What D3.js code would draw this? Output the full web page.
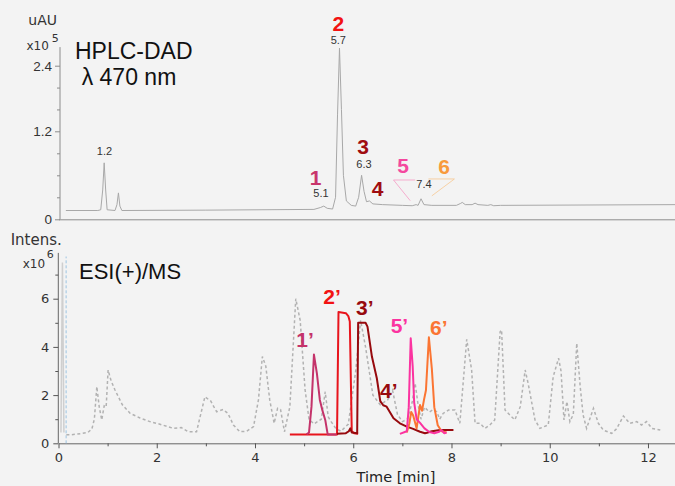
<!DOCTYPE html>
<html>
<head>
<meta charset="utf-8">
<script src="https://cdn.jsdelivr.net/npm/d3@7"></script>
<style>
  html, body { margin: 0; padding: 0; background: #f3f3f3; }
  svg { display: block; }
  .axis text { fill: #333; }
</style>
</head>
<body>
<div id="plot"></div>
<script>
// HPLC-DAD trace (time in min, signal in x10^5 uAU)
const dadTime  = [0.15, 0.80, 0.86, 0.90, 0.93, 0.96, 0.99, 1.15, 1.19, 1.22, 1.25, 1.29, 3.0, 5.2, 5.33, 5.40, 5.47, 5.58, 5.64, 5.68, 5.72, 5.76, 5.80, 5.86, 5.96, 6.05, 6.11, 6.17, 6.22, 6.27, 6.33, 6.40, 6.6, 7.0, 7.2, 7.28, 7.32, 7.38, 7.44, 7.6, 8.1, 8.18, 8.22, 8.28, 8.42, 8.48, 8.54, 8.74, 8.8, 8.86, 9.0, 12.55];
const dadValue = [0.12, 0.12, 0.13, 0.40, 0.77, 0.40, 0.13, 0.12, 0.20, 0.36, 0.18, 0.12, 0.125, 0.135, 0.16, 0.18, 0.15, 0.14, 0.30, 1.5, 2.72, 1.6, 0.6, 0.25, 0.19, 0.18, 0.30, 0.60, 0.38, 0.24, 0.25, 0.21, 0.2, 0.19, 0.185, 0.2, 0.19, 0.28, 0.2, 0.19, 0.19, 0.215, 0.23, 0.2, 0.2, 0.22, 0.2, 0.19, 0.2, 0.185, 0.19, 0.2];

// ESI(+)/MS total ion trace (x10^6)
const ticTime  = [0.16, 0.25, 0.45, 0.6, 0.68, 0.73, 0.78, 0.83, 0.88, 0.93, 0.97, 1.01, 1.07, 1.15, 1.30, 1.46, 1.66, 1.86, 2.05, 2.34, 2.5, 2.64, 2.81, 2.98, 3.10, 3.18, 3.22, 3.35, 3.45, 3.56, 3.69, 3.83, 3.97, 4.07, 4.15, 4.22, 4.3, 4.39, 4.46, 4.52, 4.6, 4.71, 4.83, 4.92, 5.02, 5.1, 5.2, 5.35, 5.43, 5.49, 5.55, 5.65, 5.75, 5.9, 6.05, 6.15, 6.25, 6.4, 6.55, 6.7, 6.8, 6.9, 7.0, 7.1, 7.2, 7.26, 7.32, 7.38, 7.45, 7.55, 7.63, 7.7, 7.76, 7.83, 7.94, 8.07, 8.17, 8.31, 8.41, 8.48, 8.58, 8.68, 8.78, 8.88, 8.99, 9.02, 9.09, 9.19, 9.29, 9.40, 9.50, 9.56, 9.70, 9.80, 9.97, 10.07, 10.18, 10.23, 10.29, 10.35, 10.41, 10.48, 10.55, 10.62, 10.68, 10.75, 10.89, 10.99, 11.09, 11.26, 11.36, 11.5, 11.63, 11.77, 11.87, 11.97, 12.08, 12.25];
const ticValue = [0.35, 0.35, 0.4, 0.45, 0.6, 1.0, 2.35, 1.5, 0.97, 1.55, 1.5, 3.04, 2.6, 2.21, 1.6, 1.24, 1.05, 0.9, 0.8, 0.62, 0.65, 0.48, 0.48, 1.93, 1.75, 1.45, 1.31, 1.4, 1.24, 0.76, 0.48, 0.5, 0.69, 1.8, 3.6, 3.2, 1.8, 0.83, 1.45, 1.4, 0.48, 1.52, 6.0, 5.1, 2.21, 1.0, 0.8, 1.0, 2.14, 1.1, 0.9, 0.6, 0.5, 0.8, 3.0, 5.1, 4.0, 2.0, 1.6, 1.8, 2.2, 1.2, 0.9, 1.0, 1.7, 2.49, 1.6, 1.0, 1.5, 1.3, 1.4, 1.31, 1.0, 1.24, 1.38, 1.38, 0.83, 4.31, 3.04, 0.83, 0.83, 0.62, 0.76, 0.97, 4.63, 4.7, 1.38, 1.17, 0.97, 1.52, 3.04, 2.49, 0.97, 0.62, 0.76, 2.76, 3.53, 3.0, 0.97, 1.73, 0.9, 1.2, 4.15, 2.35, 1.17, 0.62, 1.45, 0.83, 0.55, 0.41, 0.6, 1.13, 0.83, 0.9, 0.76, 0.9, 0.62, 0.55];

// solvent front spike
const frontTime  = [0.05, 0.08, 0.11];
const frontValue = [0.45, 7.5, 0.45];

// extracted ion traces
const eic1Time  = [5.05, 5.10, 5.15, 5.20, 5.26, 5.32, 5.37, 5.43, 5.48, 5.66];
const eic1Value = [0.37, 0.45, 1.52, 3.68, 2.9, 1.8, 1.38, 0.97, 0.37, 0.37];
const eic2Time  = [4.71, 5.67, 5.70, 5.85, 5.90, 5.93, 5.97, 6.02, 6.10];
const eic2Value = [0.37, 0.37, 5.45, 5.40, 5.28, 5.05, 0.5, 0.42, 0.40];
const eic3Time  = [5.67, 5.85, 5.91, 5.94, 5.97, 6.08, 6.10, 6.25, 6.29, 6.38, 6.48, 6.55, 6.61, 6.68, 6.75, 6.82, 6.95, 7.09, 7.22, 7.36, 7.46, 7.50, 7.6, 7.77, 8.04];
const eic3Value = [0.4, 0.42, 0.5, 0.62, 0.45, 0.42, 5.0, 5.0, 4.84, 3.6, 2.7, 1.75, 1.58, 1.52, 1.28, 1.04, 0.83, 0.69, 0.6, 0.48, 0.42, 0.44, 0.5, 0.55, 0.55];
const eic5Time  = [6.95, 7.09, 7.13, 7.17, 7.21, 7.24, 7.29, 7.36, 7.45, 7.55, 7.65, 7.75, 7.8, 7.85, 7.9];
const eic5Value = [0.39, 0.5, 1.5, 4.36, 3.2, 1.7, 1.0, 0.85, 0.62, 0.47, 0.42, 0.48, 0.55, 0.42, 0.45];
const eic6Time  = [7.09, 7.14, 7.18, 7.22, 7.29, 7.36, 7.40, 7.44, 7.48, 7.54, 7.60, 7.65, 7.72, 7.80, 7.90];
const eic6Value = [0.45, 0.8, 1.3, 1.15, 0.62, 1.59, 1.35, 1.8, 2.2, 4.4, 3.1, 1.5, 0.75, 0.5, 0.45];

// axis ticks
const timeTicks = [0, 2, 4, 6, 8, 10, 12];
const timeMinor = [1, 3, 5, 7, 9, 11];
const dadTicks = [0, 1.2, 2.4];
const dadMinor = [0.3, 0.6, 0.9, 1.6, 2.0];
const msTicks = [0, 2, 4, 6];
const msMinor = [1, 3, 5, 7];

const width = 675, height = 486;

const svg = d3.select("#plot").append("svg")
    .attr("width", width)
    .attr("height", height);

const x = d3.scaleLinear().domain([0, 12.55]).range([58.5, 675]);
const yTop = d3.scaleLinear().domain([0, 1.2, 2.4]).range([219.3, 131.3, 65.7]);
const yBot = d3.scaleLinear().domain([0, 7]).range([443.3, 274.6]);

const zip = (t, v) => t.map((d, i) => [d, v[i]]);
const lineTop = d3.line().x(d => x(d[0])).y(d => yTop(d[1]));
const lineBot = d3.line().x(d => x(d[0])).y(d => yBot(d[1]));

const sans = "Liberation Sans, Arial, sans-serif";
const verdana = "DejaVu Sans, Verdana, sans-serif";

function label(g, txt, px, py, opts) {
  return g.append("text")
      .attr("x", px).attr("y", py)
      .attr("font-family", opts.family || sans)
      .attr("font-size", opts.size)
      .attr("font-weight", opts.weight || "normal")
      .attr("fill", opts.color || "#222")
      .attr("text-anchor", opts.anchor || "middle")
      .text(txt);
}
const small = { size: 11, color: "#333" };
const big = (c, a) => ({ size: 21, weight: "bold", color: c, anchor: a || "middle" });
const unit = { size: 12, anchor: "start", color: "#333", family: verdana };

// ---------- top panel: HPLC-DAD ----------
const topG = svg.append("g");
const topAxisX = 60;

topG.append("g")
    .attr("class", "axis")
    .attr("transform", `translate(0,${yTop(0)})`)
    .call(d3.axisBottom(x).tickValues([]).tickSizeOuter(0))
    .call(g => g.select(".domain").attr("stroke", "#8c8c8c"));

topG.append("line")
    .attr("x1", topAxisX).attr("x2", topAxisX)
    .attr("y1", yTop(0)).attr("y2", yTop(2.74))
    .attr("stroke", "#8c8c8c");

topG.append("g")
    .attr("class", "axis")
    .attr("transform", `translate(${topAxisX},0)`)
    .call(d3.axisLeft(yTop).tickValues(dadTicks).tickSize(5).tickPadding(3)
      .tickFormat(d => d === 0 ? "0" : d.toFixed(1)))
    .call(g => g.select(".domain").remove())
    .call(g => g.selectAll(".tick line").attr("stroke", "#8c8c8c"))
    .call(g => g.selectAll("text").attr("font-family", sans).attr("font-size", 13.5));

topG.append("g")
    .attr("transform", `translate(${topAxisX},0)`)
    .call(d3.axisLeft(yTop).tickValues(dadMinor).tickSize(3).tickFormat(""))
    .call(g => g.select(".domain").remove())
    .call(g => g.selectAll(".tick line").attr("stroke", "#8c8c8c"));

topG.append("path")
    .datum(zip(dadTime, dadValue))
    .attr("fill", "none")
    .attr("stroke", "#a8a8a8")
    .attr("stroke-width", 1)
    .attr("d", lineTop);

// leader lines for peaks 5 and 6
topG.append("path")
    .datum([[7.26, 0.536], [6.82, 0.536], [7.16, 0.254]])
    .attr("fill", "none").attr("stroke", "#f59ac4").attr("stroke-width", 0.8)
    .attr("d", lineTop);
topG.append("path")
    .datum([[7.53, 0.55], [8.06, 0.55], [7.6, 0.32]])
    .attr("fill", "none").attr("stroke", "#f8c890").attr("stroke-width", 0.8)
    .attr("d", lineTop);

label(topG, "1.2", 104.5, 155, small);
label(topG, "5.1", 321, 197.3, small);
label(topG, "5.7", 338.3, 44, small);
label(topG, "6.3", 364, 167.7, small);
label(topG, "7.4", 424, 188.3, small);

label(topG, "1", 315.7, 185, big("#c8356c"));
label(topG, "2", 338.3, 30.7, big("#f21212"));
label(topG, "3", 363, 154, big("#a00c10"));
label(topG, "4", 377.7, 196, big("#a00c10"));
label(topG, "5", 403, 173.3, big("#f4479e"));
label(topG, "6", 444, 174, big("#f89a3c"));

label(topG, "HPLC-DAD", 75, 59.3, { size: 23, anchor: "start", color: "#111" });
label(topG, "\u03bb 470 nm", 81.7, 85, { size: 23, anchor: "start", color: "#111" });

label(topG, "uAU", 28.3, 25, Object.assign({}, unit, { size: 14 }));
label(topG, "x10", 26.5, 50, unit);
label(topG, "5", 51.7, 41.7, Object.assign({}, unit, { size: 11 }));

// ---------- bottom panel: ESI(+)/MS ----------
const botG = svg.append("g");
const botAxisX = 58.3;

botG.append("g")
    .attr("class", "axis")
    .attr("transform", `translate(0,${yBot(0)})`)
    .call(d3.axisBottom(x).tickValues(timeTicks).tickSize(5).tickPadding(4).tickSizeOuter(0))
    .call(g => g.select(".domain").attr("stroke", "#666"))
    .call(g => g.selectAll(".tick line").attr("stroke", "#555"))
    .call(g => g.selectAll("text").attr("font-family", verdana).attr("font-size", 13));

botG.append("g")
    .attr("transform", `translate(0,${yBot(0)})`)
    .call(d3.axisBottom(x).tickValues(timeMinor).tickSize(3).tickFormat(""))
    .call(g => g.select(".domain").remove())
    .call(g => g.selectAll(".tick line").attr("stroke", "#555"));

botG.append("line")
    .attr("x1", botAxisX).attr("x2", botAxisX)
    .attr("y1", yBot(0)).attr("y2", yBot(7.9))
    .attr("stroke", "#666");

botG.append("g")
    .attr("class", "axis")
    .attr("transform", `translate(${botAxisX},0)`)
    .call(d3.axisLeft(yBot).tickValues(msTicks).tickSize(5).tickPadding(4).tickFormat(d3.format("d")))
    .call(g => g.select(".domain").remove())
    .call(g => g.selectAll(".tick line").attr("stroke", "#555"))
    .call(g => g.selectAll("text").attr("font-family", verdana).attr("font-size", 13));

botG.append("g")
    .attr("transform", `translate(${botAxisX},0)`)
    .call(d3.axisLeft(yBot).tickValues(msMinor).tickSize(3).tickFormat(""))
    .call(g => g.select(".domain").remove())
    .call(g => g.selectAll(".tick line").attr("stroke", "#555"));

// solvent front and marker line
botG.append("path")
    .datum(zip(frontTime, frontValue))
    .attr("fill", "none").attr("stroke", "#cfcfcf").attr("stroke-width", 1.5)
    .attr("d", lineBot);

botG.append("path")
    .datum([[0.155, 0], [0.155, 7.75]])
    .attr("fill", "none").attr("stroke", "#9cc4e2").attr("stroke-width", 1)
    .attr("stroke-dasharray", "3,2")
    .attr("d", lineBot);

botG.append("path")
    .datum(zip(ticTime, ticValue))
    .attr("fill", "none")
    .attr("stroke", "#b2b2b2")
    .attr("stroke-width", 1.5)
    .attr("stroke-dasharray", "3,2.5")
    .attr("d", lineBot);

const eics = [
  { t: eic2Time, v: eic2Value, c: "#e8141c" },
  { t: eic3Time, v: eic3Value, c: "#970a0e" },
  { t: eic1Time, v: eic1Value, c: "#c4336a" },
  { t: eic6Time, v: eic6Value, c: "#fb7533" },
  { t: eic5Time, v: eic5Value, c: "#fb33a0" }
];

eics.forEach(e => {
  botG.append("path")
      .datum(zip(e.t, e.v))
      .attr("fill", "none")
      .attr("stroke", e.c)
      .attr("stroke-width", 2)
      .attr("stroke-linejoin", "round")
      .attr("d", lineBot);
});

label(botG, "1\u2019", 305, 346.7, big("#c4336a"));
label(botG, "2\u2019", 323.3, 304, big("#f21212", "start"));
label(botG, "3\u2019", 356, 315, big("#970a0e", "start"));
label(botG, "4\u2019", 380, 398.3, big("#970a0e", "start"));
label(botG, "5\u2019", 390.7, 333.3, big("#fb33a0", "start"));
label(botG, "6\u2019", 430, 335, big("#fb7533", "start"));

label(botG, "ESI(+)/MS", 79, 279.3, { size: 22, anchor: "start", color: "#111" });
label(botG, "Intens.", 10.7, 245, Object.assign({}, unit, { size: 15 }));
label(botG, "x10", 22.7, 268.3, unit);
label(botG, "6", 46.7, 257.7, Object.assign({}, unit, { size: 11 }));

label(botG, "Time [min]", 396, 482, { size: 14.5, color: "#222", family: verdana });
</script>
</body>
</html>
